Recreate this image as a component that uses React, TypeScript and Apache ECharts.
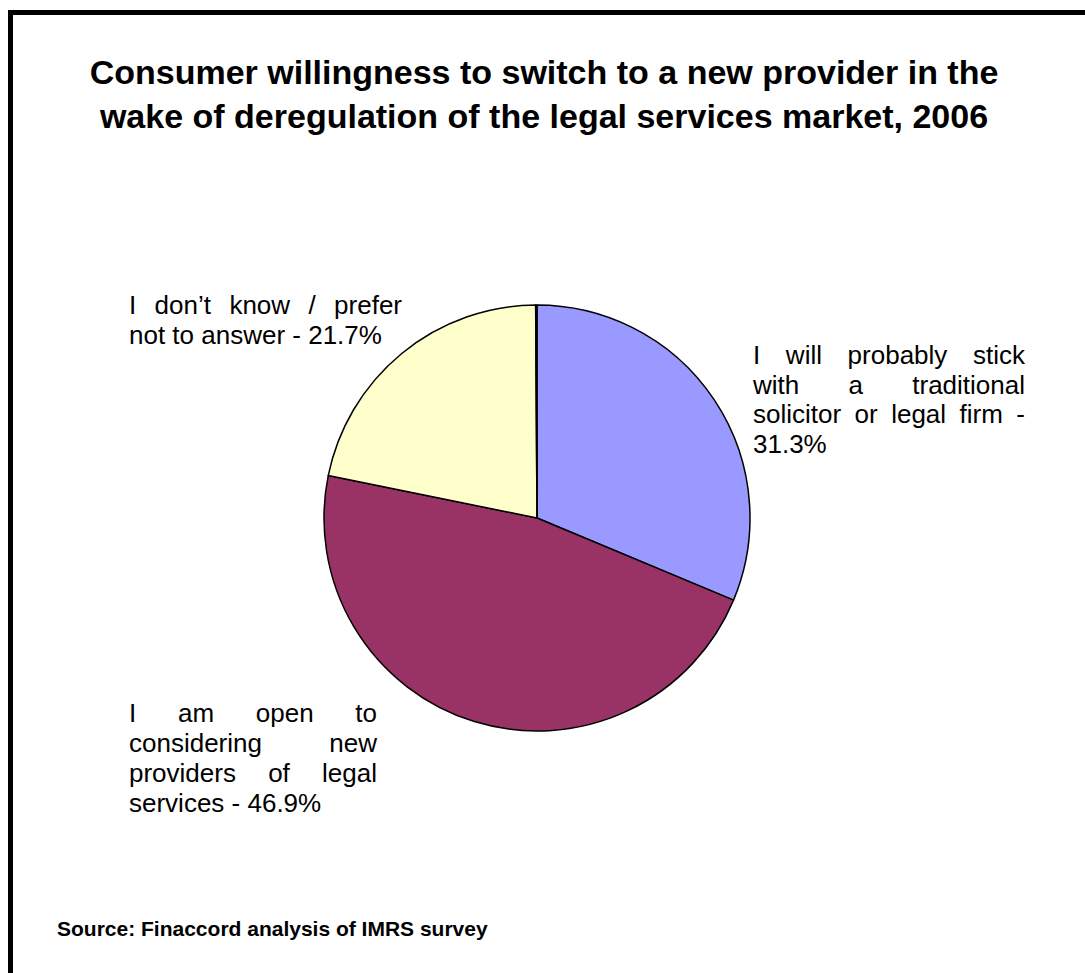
import React, { useEffect, useRef } from "react";
import * as echarts from "echarts";

const categories = [
  "I will probably stick with a traditional solicitor or legal firm",
  "I am open to considering new providers of legal services",
  "I don’t know / prefer not to answer",
  "Other",
];
const values = [31.3, 46.9, 21.7, 0.1];
const colors = ["#9999FF", "#993366", "#FFFFCC", "#CCFFFF"];

const titleLines = [
  "Consumer willingness to switch to a new provider in the",
  "wake of deregulation of the legal services market, 2006",
];
const sourceText = "Source: Finaccord analysis of IMRS survey";

// label lines as wrapped in the reference (last line carries the value)
const labelLines: string[][] = [
  ["I will probably stick", "with a traditional", "solicitor or legal firm -", `${values[0]}%`],
  ["I am open to", "considering new", "providers of legal", `services - ${values[1]}%`],
  ["I don’t know / prefer", `not to answer - ${values[2]}%`],
];

const FONT = "'Liberation Sans', Arial, Helvetica, sans-serif";

export default function App() {
  const ref = useRef<HTMLDivElement>(null);
  useEffect(() => {
    if (!ref.current) return;
    const chart = echarts.init(ref.current, undefined, { renderer: "svg" });

    const ctx = document.createElement("canvas").getContext("2d")!;
    const labelSize = 26;
    ctx.font = `${labelSize}px ${FONT}`;

    // label boxes: left, right, first line center y, line height
    const boxes = [
      { left: 753, right: 1025, top: 355, lh: 29.7 },
      { left: 129, right: 377, top: 713, lh: 30 },
      { left: 129, right: 402, top: 305, lh: 30 },
    ];

    const labelGraphics: any[] = [];
    labelLines.forEach((lines, i) => {
      const b = boxes[i];
      lines.forEach((line, li) => {
        const y = b.top + li * b.lh;
        const words = line.split(" ");
        const isLast = li === lines.length - 1;
        if (isLast || words.length < 2) {
          labelGraphics.push({
            type: "text",
            x: b.left,
            y,
            style: { text: line, font: `${labelSize}px ${FONT}`, fill: "#000", textAlign: "left", textVerticalAlign: "middle" },
          });
        } else {
          const widths = words.map((w) => ctx.measureText(w).width);
          const total = widths.reduce((a, c) => a + c, 0);
          const gap = (b.right - b.left - total) / (words.length - 1);
          let x = b.left;
          words.forEach((w, wi) => {
            labelGraphics.push({
              type: "text",
              x,
              y,
              style: { text: w, font: `${labelSize}px ${FONT}`, fill: "#000", textAlign: "left", textVerticalAlign: "middle" },
            });
            x += widths[wi] + gap;
          });
        }
      });
    });

    chart.setOption({
      animation: false,
      backgroundColor: "#ffffff",
      series: [
        {
          type: "pie",
          center: [537, 518],
          radius: 213,
          startAngle: 90,
          clockwise: true,
          label: { show: false },
          labelLine: { show: false },
          emphasis: { disabled: true },
          itemStyle: { borderColor: "#000", borderWidth: 1.5 },
          data: categories.map((c, i) => ({
            name: c,
            value: values[i],
            itemStyle: { color: colors[i] },
          })),
        },
      ],
      graphic: [
        { type: "rect", shape: { x: 8, y: 10, width: 5, height: 980 }, style: { fill: "#000" } },
        { type: "rect", shape: { x: 8, y: 10, width: 1100, height: 5 }, style: { fill: "#000" } },
        ...titleLines.map((t, i) => ({
          type: "text",
          x: 544,
          y: 72 + i * 44,
          style: { text: t, font: `bold 34px ${FONT}`, fill: "#000", textAlign: "center", textVerticalAlign: "middle" },
        })),
        {
          type: "text",
          x: 57,
          y: 928,
          style: { text: sourceText, font: `bold 21px ${FONT}`, fill: "#000", textAlign: "left", textVerticalAlign: "middle" },
        },
        ...labelGraphics,
      ],
    });
    return () => chart.dispose();
  }, []);
  return <div ref={ref} style={{ position: "fixed", left: 0, top: 0, width: 1085, height: 973 }} />;
}
